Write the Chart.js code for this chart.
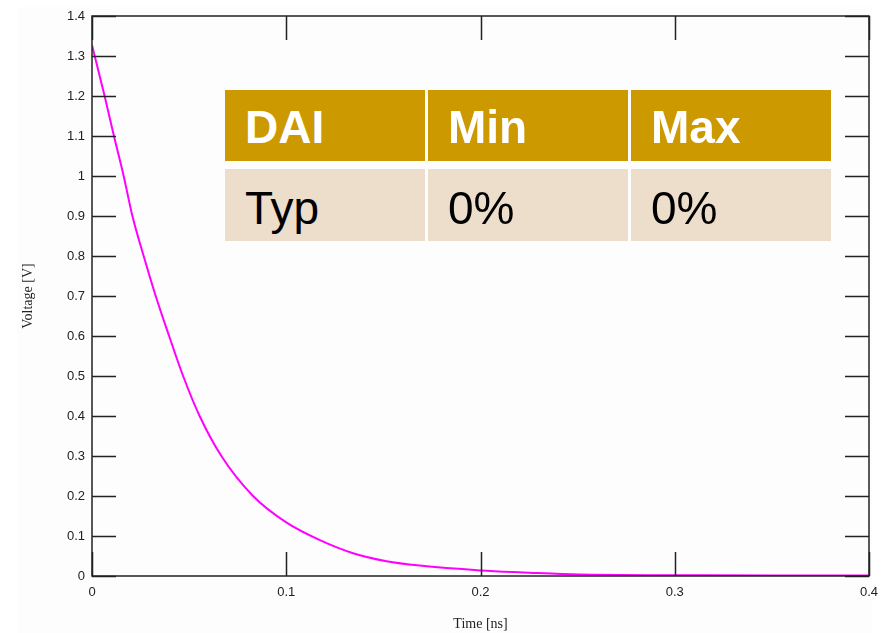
<!DOCTYPE html>
<html>
<head>
<meta charset="utf-8">
<script src="https://cdn.jsdelivr.net/npm/chart.js@4/dist/chart.umd.min.js"></script>
<style>
  html, body { margin: 0; padding: 0; background: #ffffff; }
  #wrap { position: relative; width: 889px; height: 633px; }
  #bg { position: absolute; left: 17px; top: 7px; width: 855px; height: 626px; background: #fdfdfd; }
  canvas { position: absolute; left: 0; top: 0; }
  .cell { position: absolute; font-family: "Liberation Sans", Arial, sans-serif; font-size: 46px; line-height: 1; box-sizing: border-box; padding-left: 20px; }
  .hdr { background: #CC9900; color: #ffffff; font-weight: bold; }
  .row { background: #EDDDCB; color: #000000; }
</style>
</head>
<body>
<div id="wrap">
  <div id="bg"></div>
  <canvas id="c" width="889" height="633"></canvas>
</div>
<script>
// ---- data ----
const timeNs = [0, 0.0065, 0.0113, 0.0163, 0.0208, 0.0266, 0.0328, 0.0397, 0.0469, 0.0554, 0.0666, 0.0829, 0.1, 0.1176, 0.1344, 0.1516, 0.1687, 0.2, 0.222, 0.251, 0.3, 0.35, 0.4];
const voltage = [1.327, 1.2, 1.1, 1.0, 0.9, 0.8, 0.7, 0.6, 0.5, 0.4, 0.3, 0.2, 0.134, 0.089, 0.057, 0.037, 0.026, 0.014, 0.009, 0.0035, 0.002, 0.001, 0.001];
const tableHeader = ["DAI", "Min", "Max"];
const tableRow = ["Typ", "0%", "0%"];
const xTitle = "Time [ns]";
const yTitle = "Voltage [V]";

// ---- table overlay ----
const wrap = document.getElementById('wrap');
const colX = [225, 428, 631];
function addCell(text, cls, x, y, w, h, padTop) {
  const d = document.createElement('div');
  d.className = 'cell ' + cls;
  d.style.left = x + 'px'; d.style.top = y + 'px';
  d.style.width = w + 'px'; d.style.height = h + 'px';
  d.style.paddingTop = padTop + 'px';
  d.textContent = text;
  wrap.appendChild(d);
}
tableHeader.forEach((t, i) => addCell(t, 'hdr', colX[i], 90, 200, 71, 14));
tableRow.forEach((t, i) => addCell(t, 'row', colX[i], 169, 200, 72, 16));

// ---- inward ticks + frame plugin ----
const frame = {
  id: 'frame',
  afterDatasetsDraw(chart) {
    const { ctx, chartArea: a, scales } = chart;
    ctx.save();
    ctx.strokeStyle = '#222';
    ctx.lineWidth = 1.5;
    const L = 24;
    scales.x.ticks.forEach(t => {
      const px = Math.round(scales.x.getPixelForValue(t.value)) + 0.5;
      ctx.beginPath();
      ctx.moveTo(px, a.bottom); ctx.lineTo(px, a.bottom - L);
      ctx.moveTo(px, a.top); ctx.lineTo(px, a.top + L);
      ctx.stroke();
    });
    scales.y.ticks.forEach(t => {
      const py = Math.round(scales.y.getPixelForValue(t.value)) + 0.5;
      ctx.beginPath();
      ctx.moveTo(a.left, py); ctx.lineTo(a.left + L, py);
      ctx.moveTo(a.right, py); ctx.lineTo(a.right - L, py);
      ctx.stroke();
    });
    ctx.strokeRect(a.left, a.top, a.right - a.left, a.bottom - a.top);
    ctx.restore();
  }
};

const tickFont = { family: '"Liberation Sans Narrow", "Liberation Sans", Arial, sans-serif', size: 13 };
const titleFont = { family: '"Liberation Serif", "Times New Roman", serif', size: 14 };

new Chart(document.getElementById('c'), {
  type: 'line',
  data: {
    datasets: [{
      data: timeNs.map((t, i) => ({ x: t, y: voltage[i] })),
      borderColor: '#FF00FF',
      borderWidth: 2,
      pointRadius: 0,
      cubicInterpolationMode: 'monotone',
      fill: false
    }]
  },
  options: {
    responsive: false,
    animation: false,
    events: [],
    layout: { padding: { left: 0, top: 16, right: 20, bottom: 0 } },
    plugins: { legend: { display: false }, tooltip: { enabled: false } },
    scales: {
      x: {
        type: 'linear', min: 0, max: 0.4,
        ticks: { stepSize: 0.1, color: '#222', font: tickFont, padding: 9, maxRotation: 0,
                 callback: v => (Math.round(v * 10) / 10).toString() },
        grid: { display: false, drawTicks: false },
        border: { display: false },
        title: { display: true, text: xTitle, color: '#222', font: titleFont, padding: { top: 8, bottom: 0 } },
        afterFit: s => { s.height = 57; }
      },
      y: {
        type: 'linear', min: 0, max: 1.4,
        ticks: { stepSize: 0.1, color: '#222', font: tickFont, padding: 7,
                 callback: v => (Math.round(v * 10) / 10).toString() },
        grid: { display: false, drawTicks: false },
        border: { display: false },
        title: { display: true, text: yTitle, color: '#222', font: titleFont, padding: { top: 20, bottom: 0 } },
        afterFit: s => { s.width = 92; }
      }
    }
  },
  plugins: [frame]
});
</script>
</body>
</html>
